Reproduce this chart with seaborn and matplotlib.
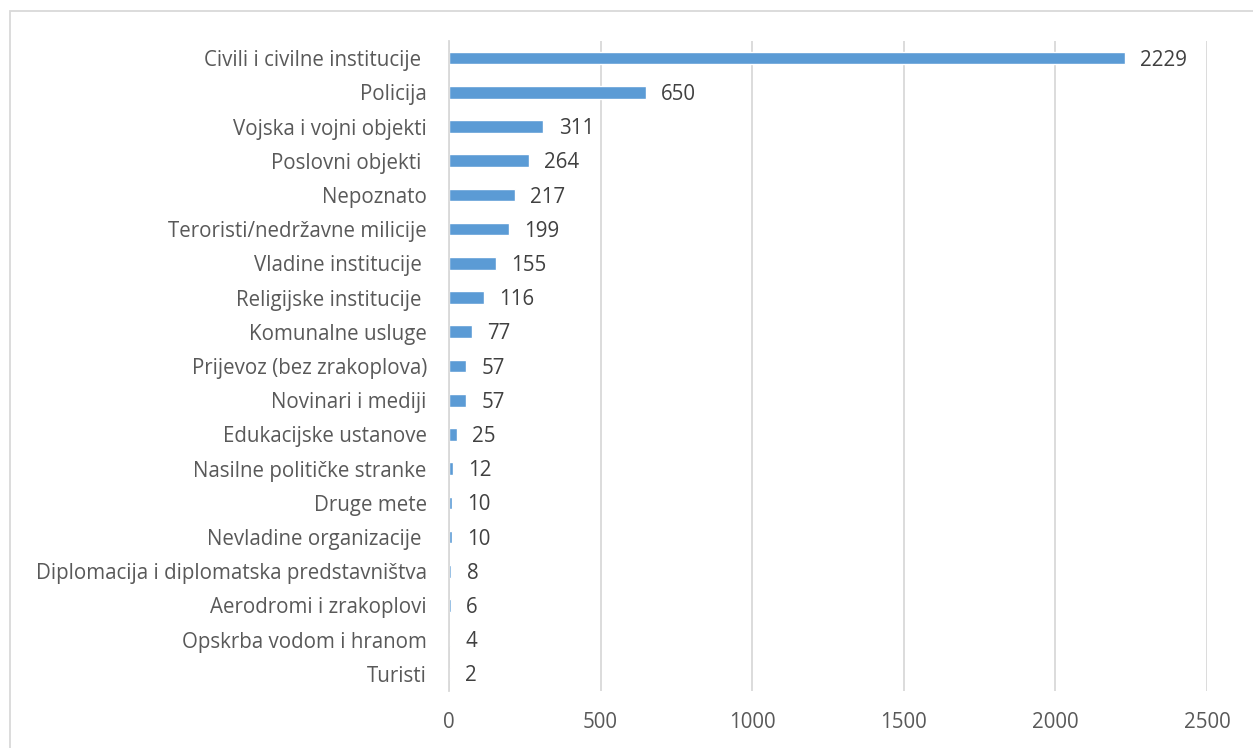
import matplotlib
matplotlib.use("Agg")
import matplotlib.pyplot as plt
import seaborn as sns
import pandas as pd
from matplotlib.patches import Rectangle

categories = [
    "Civili i civilne institucije ", "Policija", "Vojska i vojni objekti",
    "Poslovni objekti ", "Nepoznato", "Teroristi/nedržavne milicije",
    "Vladine institucije ", "Religijske institucije ", "Komunalne usluge",
    "Prijevoz (bez zrakoplova)", "Novinari i mediji", "Edukacijske ustanove",
    "Nasilne političke stranke", "Druge mete", "Nevladine organizacije ",
    "Diplomacija i diplomatska predstavništva", "Aerodromi i zrakoplovi",
    "Opskrba vodom i hranom", "Turisti",
]
values = [2229, 650, 311, 264, 217, 199, 155, 116, 77, 57, 57, 25, 12, 10, 10, 8, 6, 4, 2]
xticks = [0, 500, 1000, 1500, 2000, 2500]

df = pd.DataFrame({"cat": categories, "val": values})

sns.set_theme(style="white")
plt.rcParams["font.family"] = ["Open Sans", "DejaVu Sans"]

W, H = 1253, 748
fig = plt.figure(figsize=(W / 100, H / 100), dpi=100)
ax = fig.add_axes([449 / W, 1 - 691 / H, (1207 - 449) / W, (691 - 41) / H])

sns.barplot(data=df, x="val", y="cat", color="#5B9BD5", saturation=1,
            width=0.37, ax=ax, orient="h")

ax.set_xlim(0, 2500)
ax.set_ylim(len(categories) - 0.5, -0.5)
ax.set_xticks(xticks)
ax.set_xticklabels([str(t) for t in xticks])
ax.set_xlabel("")
ax.set_ylabel("")
ax.xaxis.grid(True, color="#D9D9D9", linewidth=1.3)
ax.set_axisbelow(True)
for s in ["top", "right", "bottom"]:
    ax.spines[s].set_visible(False)
ax.spines["left"].set_color("#D9D9D9")
ax.spines["left"].set_linewidth(1.3)
fs = 14.8
ax.tick_params(axis="y", length=0, pad=16, labelsize=fs, labelcolor="#595959")
ax.tick_params(axis="x", length=0, pad=15, labelsize=fs, labelcolor="#595959")

for i, v in enumerate(values):
    ax.annotate(str(v), xy=(v, i), xytext=(11, -1.5), textcoords="offset points",
                va="center", ha="left", fontsize=fs, color="#404040")

fig.patches.append(Rectangle((10 / W, -0.1), 1.2, (H - 11) / H + 0.1,
                             transform=fig.transFigure, fill=False,
                             edgecolor="#D9D9D9", linewidth=1.3))

fig.savefig("out.png", dpi=100)
